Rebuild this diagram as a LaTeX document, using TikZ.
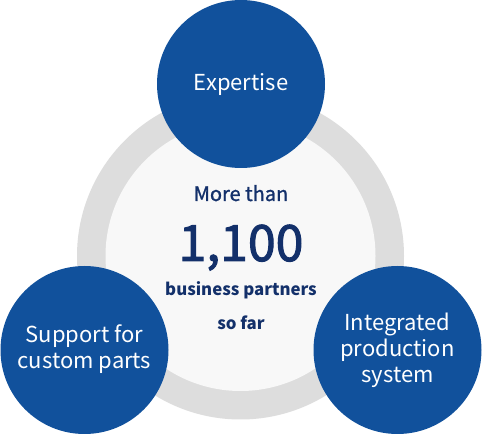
\documentclass[tikz,border=0pt]{standalone}
\usepackage{fontspec}
\setmainfont{Noto Sans CJK JP}
\newfontfamily\medfont[FakeBold=1.2]{Noto Sans CJK JP}
\newfontfamily\bigfont[FakeBold=2]{Noto Sans CJK JP}
\definecolor{blueC}{HTML}{11519C}
\definecolor{navyT}{HTML}{13306A}
\definecolor{ringG}{HTML}{DDDDDD}
\definecolor{innerG}{HTML}{F8F8F8}
\tikzset{
  bluecircle/.style={circle, fill=blueC, minimum size=168pt, inner sep=0pt},
  wtext/.style={text=white, font=\fontsize{22}{26}\selectfont, anchor=base, inner sep=0pt, align=center},
  ntext/.style={text=navyT, anchor=base, inner sep=0pt}
}
\begin{document}
\begin{tikzpicture}[x=1pt,y=-1pt]
\useasboundingbox (0,0) rectangle (482,435);
\fill[white] (0,0) rectangle (482,435);
\node[circle, fill=ringG, minimum size=327pt, inner sep=0pt] (ring) at (240.5,256) {};
\node[circle, fill=innerG, minimum size=270pt, inner sep=0pt] (inner) at (240.5,256) {};
\node[bluecircle] (top) at (241,84) {};
\node[bluecircle] (left) at (84.5,350) {};
\node[bluecircle] (right) at (397.5,350) {};
\node[wtext] (t1) at (241,91) {Expertise};
\node[wtext] (t2a) at (84.5,343) {Support for};
\node[wtext] (t2b) at (84.5,369) {custom parts};
\node[wtext] (t3a) at (397.5,331) {Integrated};
\node[wtext] (t3b) at (397.5,357) {production};
\node[wtext] (t3c) at (397.5,383) {system};
\node[ntext, font=\medfont\fontsize{20}{24}\selectfont] (c1) at (241,201) {More than};
\node[ntext, font=\bigfont\fontsize{50}{56}\selectfont] (c2) at (241,261) {1,100};
\node[ntext, font=\bfseries\fontsize{16.8}{22}\selectfont] (c3) at (241,296) {business partners};
\node[ntext, font=\bfseries\fontsize{16.8}{22}\selectfont] (c4) at (241,330) {so far};
\end{tikzpicture}
\end{document}
